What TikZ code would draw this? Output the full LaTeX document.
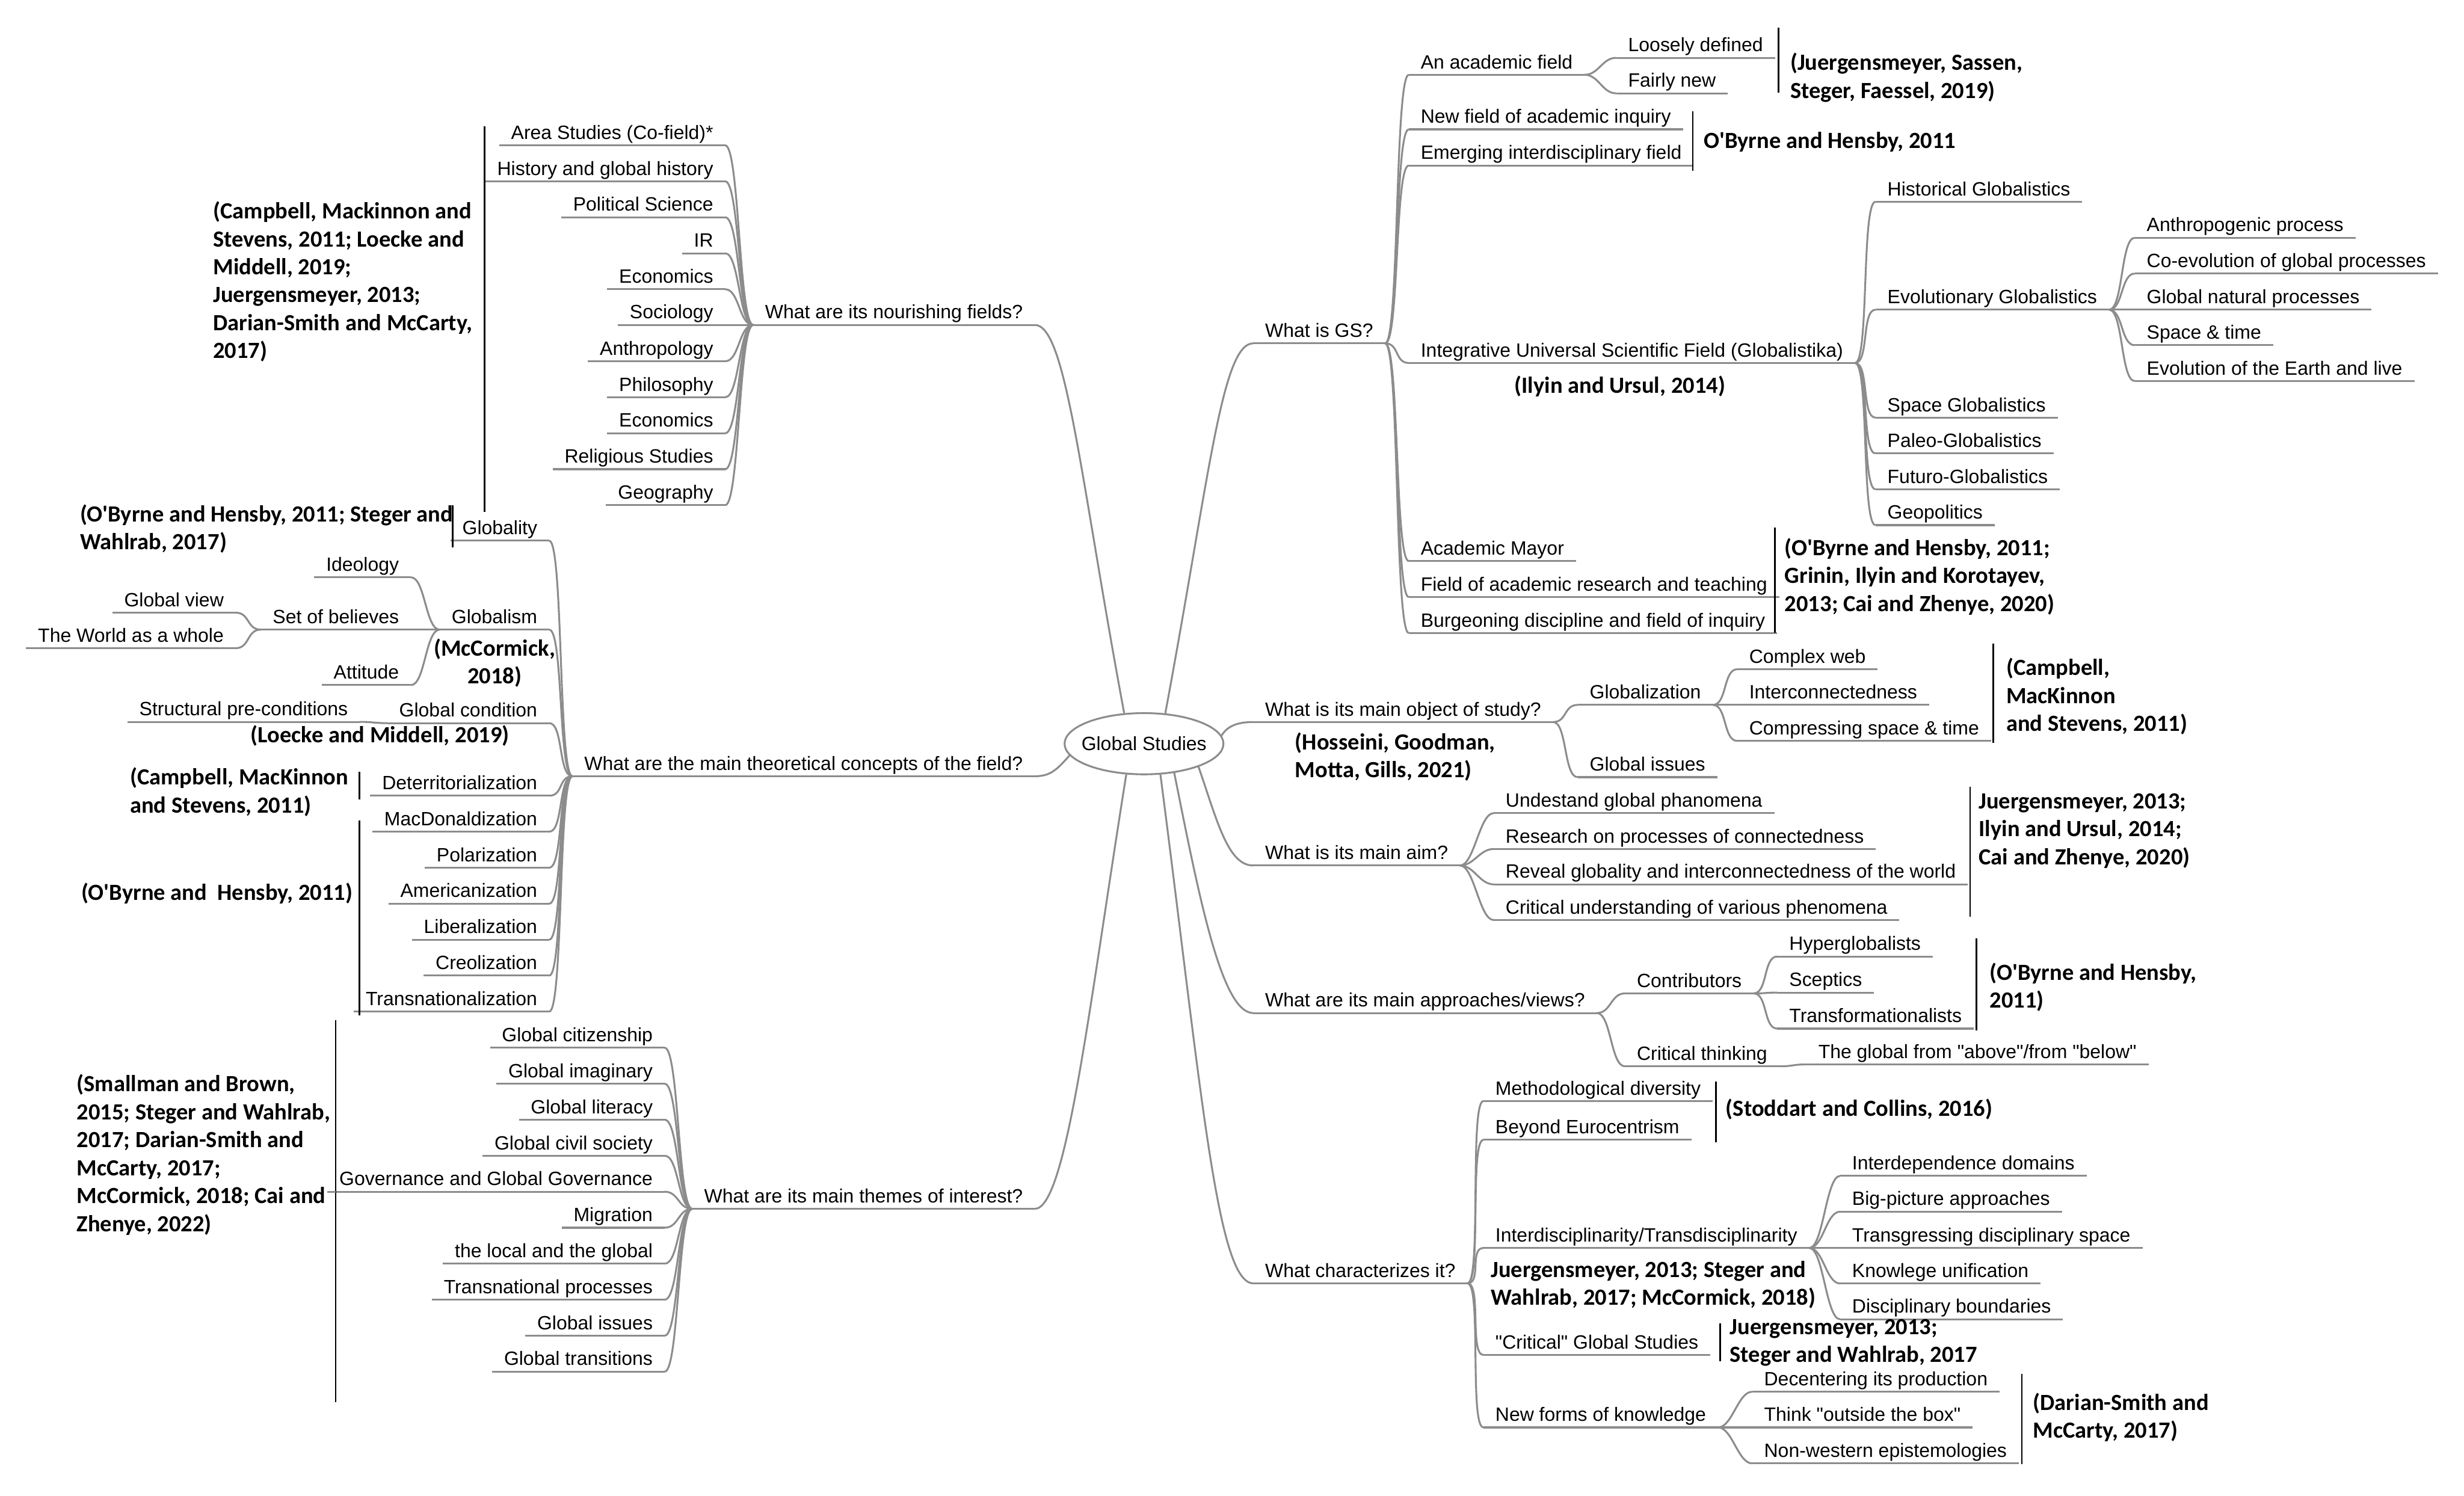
\documentclass[tikz,border=0pt]{standalone}
\usepackage{fontspec}
\setmainfont{Liberation Sans}
\newfontfamily\citefont{Carlito}
\usetikzlibrary{shapes.geometric}

\newcommand\leaffont{\fontsize{9.3}{11}\selectfont}
\newcommand\reffont{\citefont\bfseries\fontsize{11.2}{13.5}\selectfont}
\newcommand\obh{O\textquotesingle Byrne}
\newcommand\dq{\textquotedbl}
\definecolor{linegray}{RGB}{140,140,140}

\tikzset{
  uline/.style={draw=linegray, line width=0.9pt},
  item/.style={inner xsep=5.6pt, inner ysep=0.3pt, text depth=0.25em,
    append after command={(\tikzlastnode.south west) edge[uline] (\tikzlastnode.south east)}},
  rnode/.style={item, anchor=south west},
  lnode/.style={item, anchor=south east},
  branch/.style={uline, to path={.. controls +(9,0) and +(-9,0) .. (\tikztotarget)}},
  hub/.style={ellipse, draw=linegray, line width=0.9pt, minimum width=27mm, minimum height=10.4mm, inner sep=0pt},
  cite/.style={font=\reffont, align=left, anchor=west, inner sep=0pt},
  bar/.style={draw=black, line width=0.7pt}
}

\begin{document}
\begin{tikzpicture}[x=0.26703mm, y=-0.26703mm, font=\leaffont]
  \useasboundingbox (0,0) rectangle (1568,952);

  % centre
  \node[hub, label={center:Global Studies}] (gs) at (728,473.3) {};

  % ---- left: nourishing fields
  \node[lnode] (nour) at (658.5,206.8) {What are its nourishing fields?};
  \foreach \i/\y/\t in {1/92.5/{Area Studies (Co-field)*}, 2/115.4/{History and global history}, 3/138.3/{Political Science}, 4/161.2/{IR}, 5/184.1/{Economics}, 6/206.8/{Sociology}, 7/229.9/{Anthropology}, 8/252.8/{Philosophy}, 9/275.7/{Economics}, 10/298.6/{Religious Studies}, 11/321.5/{Geography}}
    {\node[lnode] (nf\i) at (461.5,\y) {\t}; \draw[branch] (nf\i.south east) to (nour.south west);}
  \node[cite] (refnour) at (135.4,179.3) {(Campbell, Mackinnon and\\Stevens, 2011; Loecke and\\Middell, 2019;\\Juergensmeyer, 2013;\\Darian-Smith and McCarty,\\2017)};
  \draw[bar] (308.3,80.4) -- (308.3,325.8);

  % ---- left: theoretical concepts
  \node[lnode] (theo) at (658.5,494) {What are the main theoretical concepts of the field?};
  \node[lnode] (glty) at (349.5,344.1) {Globality};
  \node[lnode] (glsm) at (349.5,400.7) {Globalism};
  \node[lnode] (gcond) at (349.5,460.2) {Global condition};
  \foreach \n in {glty,glsm,gcond} \draw[branch] (\n.south east) to (theo.south west);
  \foreach \i/\y/\t in {1/506.4/Deterritorialization, 2/529.3/MacDonaldization, 3/552.2/Polarization, 4/575.1/Americanization, 5/598/Liberalization, 6/620.9/Creolization, 7/643.8/Transnationalization}
    {\node[lnode] (tc\i) at (349.5,\y) {\t}; \draw[branch] (tc\i.south east) to (theo.south west);}

  \node[lnode] (ideo) at (261.5,367.4) {Ideology};
  \node[lnode] (blf) at (261.5,400.7) {Set of believes};
  \node[lnode] (att) at (261.5,436) {Attitude};
  \foreach \n in {ideo,blf,att} \draw[branch] (\n.south east) to (glsm.south west);
  \node[lnode] (gview) at (150,389.9) {Global view};
  \node[lnode] (whole) at (150,412.5) {The World as a whole};
  \foreach \n in {gview,whole} \draw[branch] (\n.south east) to (blf.south west);
  \node[lnode] (struct) at (229,459.4) {Structural pre-conditions};
  \draw[branch] (struct.south east) to (gcond.south west);

  \node[cite] (refglty) at (50.7,336.6) {(\obh\ and Hensby, 2011; Steger and\\Wahlrab, 2017)};
  \draw[bar] (288,321.6) -- (288,348.5);
  \node[cite, align=center, anchor=center] (refmcc) at (314.7,422) {(McCormick,\\2018)};
  \node[cite, anchor=center] (refloe) at (241.8,468.2) {(Loecke and Middell, 2019)};
  \node[cite] (refcmk) at (82.5,504) {(Campbell, MacKinnon\\and Stevens, 2011)};
  \draw[bar] (228.7,491) -- (228.7,508.6);
  \node[cite] (refobh) at (51.6,568.4) {(\obh\ and~ Hensby, 2011)};
  \draw[bar] (228.7,522) -- (228.7,646);

  % ---- left: themes
  \node[lnode] (thm) at (658.5,769.3) {What are its main themes of interest?};
  \foreach \i/\y/\t in {1/666.8/{Global citizenship}, 2/689.7/{Global imaginary}, 3/712.6/{Global literacy}, 4/735.5/{Global civil society}, 5/758.4/{Governance and Global Governance}, 6/781.3/{Migration}, 7/804.2/{the local and the global}, 8/827.1/{Transnational processes}, 9/850/{Global issues}, 10/872.9/{Global transitions}}
    {\node[lnode] (th\i) at (423,\y) {\t}; \draw[branch] (th\i.south east) to (thm.south west);}
  \coordinate (thbar) at (213.7,649.2);
  \draw[bar] (thbar) -- ++(0,243);
  \draw[uline] (th5.south west) -- (th5.south west -| thbar);
  \node[cite] (refthm) at (48.6,734.9) {(Smallman and Brown,\\2015; Steger and Wahlrab,\\2017; Darian-Smith and\\McCarty, 2017;\\McCormick, 2018; Cai and\\Zhenye, 2022)};

  % ---- right: what is GS
  \node[rnode] (gsq) at (797.5,218.5) {What is GS?};
  \node[rnode] (acad) at (896.5,47.6) {An academic field};
  \node[rnode] (newf) at (896.5,82.3) {New field of academic inquiry};
  \node[rnode] (emrg) at (896.5,105.3) {Emerging interdisciplinary field};
  \node[rnode] (intg) at (896.5,231) {Integrative Universal Scientific Field (Globalistika)};
  \node[rnode] (mayor) at (896.5,357.1) {Academic Mayor};
  \node[rnode] (resr) at (896.5,380) {Field of academic research and teaching};
  \node[rnode] (burg) at (896.5,402.9) {Burgeoning discipline and field of inquiry};
  \foreach \n in {acad,newf,emrg,intg,mayor,resr,burg} \draw[branch] (gsq.south east) to (\n.south west);
  \node[rnode] (loose) at (1028.5,36.8) {Loosely defined};
  \node[rnode] (fair) at (1028.5,59.4) {Fairly new};
  \foreach \n in {loose,fair} \draw[branch] (acad.south east) to (\n.south west);
  \node[rnode] (hist) at (1193.5,128.4) {Historical Globalistics};
  \node[rnode] (evol) at (1193.5,197.1) {Evolutionary Globalistics};
  \node[rnode] (spce) at (1193.5,265.8) {Space Globalistics};
  \node[rnode] (paleo) at (1193.5,288.6) {Paleo-Globalistics};
  \node[rnode] (futr) at (1193.5,311.4) {Futuro-Globalistics};
  \node[rnode] (geop) at (1193.5,334.2) {Geopolitics};
  \foreach \n in {hist,evol,spce,paleo,futr,geop} \draw[branch] (intg.south east) to (\n.south west);
  \foreach \i/\y/\t in {1/151.3/{Anthropogenic process}, 2/174.1/{Co-evolution of global processes}, 3/197.1/{Global natural processes}, 4/219.7/{Space \& time}, 5/242.5/{Evolution of the Earth and live}}
    {\node[rnode] (ev\i) at (1358.5,\y) {\t}; \draw[branch] (evol.south east) to (ev\i.south west);}

  \node[cite] (refacad) at (1139,49.4) {(Juergensmeyer, Sassen,\\Steger, Faessel, 2019)};
  \draw[bar] (1131.8,17.6) -- (1131.8,58.9);
  \node[cite] (refnewf) at (1084,90.3) {\obh\ and Hensby, 2011};
  \draw[bar] (1077.2,71) -- (1077.2,108.7);
  \node[cite, anchor=center] (refintg) at (1030.8,245.8) {(Ilyin and Ursul, 2014)};
  \node[cite] (refmayor) at (1135.5,367) {(\obh\ and Hensby, 2011;\\Grinin, Ilyin and Korotayev,\\2013; Cai and Zhenye, 2020)};
  \draw[bar] (1129.5,335.8) -- (1129.5,402.8);

  % ---- right: object of study
  \node[rnode] (obj) at (797.5,459.5) {What is its main object of study?};
  \node[rnode] (glzn) at (1004,448.6) {Globalization};
  \node[rnode] (giss) at (1004,494.6) {Global issues};
  \foreach \n in {glzn,giss} \draw[branch] (obj.south east) to (\n.south west);
  \foreach \i/\y/\t in {1/425.9/{Complex web}, 2/448.6/{Interconnectedness}, 3/471.5/{Compressing space \& time}}
    {\node[rnode] (gz\i) at (1105.5,\y) {\t}; \draw[branch] (glzn.south east) to (gz\i.south west);}
  \node[cite] (refobj) at (823.9,481.7) {(Hosseini, Goodman,\\Motta, Gills, 2021)};
  \node[cite] (refglzn) at (1276.4,443.3) {(Campbell,\\MacKinnon\\and Stevens, 2011)};
  \draw[bar] (1268.5,409.5) -- (1268.5,472.9);

  % ---- right: aim
  \node[rnode] (aim) at (797.5,550.8) {What is its main aim?};
  \foreach \i/\y/\t in {1/517.5/{Undestand global phanomena}, 2/540.3/{Research on processes of connectedness}, 3/562.8/{Reveal globality and interconnectedness of the world}, 4/585.5/{Critical understanding of various phenomena}}
    {\node[rnode] (am\i) at (950.5,\y) {\t}; \draw[branch] (aim.south east) to (am\i.south west);}
  \node[cite] (refaim) at (1259,528.7) {Juergensmeyer, 2013;\\Ilyin and Ursul, 2014;\\Cai and Zhenye, 2020)};
  \draw[bar] (1253.6,500.9) -- (1253.6,583.4);

  % ---- right: approaches
  \node[rnode] (appr) at (797.5,644.7) {What are its main approaches/views?};
  \node[rnode] (contr) at (1034,632.2) {Contributors};
  \node[rnode] (crit) at (1034,678.6) {Critical thinking};
  \foreach \n in {contr,crit} \draw[branch] (appr.south east) to (\n.south west);
  \foreach \i/\y/\t in {1/608.7/Hyperglobalists, 2/631.7/Sceptics, 3/654.6/Transformationalists}
    {\node[rnode] (ct\i) at (1131,\y) {\t}; \draw[branch] (contr.south east) to (ct\i.south west);}
  \node[rnode] (above) at (1149.5,677.4) {The global from \dq above\dq/from \dq below\dq};
  \draw[branch] (crit.south east) to (above.south west);
  \node[cite] (refcontr) at (1266,628.2) {(\obh\ and Hensby,\\2011)};
  \draw[bar] (1257.7,597) -- (1257.7,655.7);

  % ---- right: characterizes
  \node[rnode] (char) at (797.5,816.7) {What characterizes it?};
  \node[rnode] (meth) at (944,700.7) {Methodological diversity};
  \node[rnode] (euro) at (944,725.4) {Beyond Eurocentrism};
  \node[rnode] (inter) at (944,794.2) {Interdisciplinarity/Transdisciplinarity};
  \node[rnode] (cgs) at (944,862.3) {\dq Critical\dq\ Global Studies};
  \node[rnode] (newk) at (944,908.4) {New forms of knowledge};
  \foreach \n in {meth,euro,inter,cgs,newk} \draw[branch] (char.south east) to (\n.south west);
  \foreach \i/\y/\t in {1/748.3/{Interdependence domains}, 2/771.1/{Big-picture approaches}, 3/794.2/{Transgressing disciplinary space}, 4/816.8/{Knowlege unification}, 5/839.6/{Disciplinary boundaries}}
    {\node[rnode] (id\i) at (1171,\y) {\t}; \draw[branch] (inter.south east) to (id\i.south west);}
  \foreach \i/\y/\t in {1/885.7/{Decentering its production}, 2/908.4/{Think \dq outside the box\dq}, 3/931.3/{Non-western epistemologies}}
    {\node[rnode] (nk\i) at (1115,\y) {\t}; \draw[branch] (newk.south east) to (nk\i.south west);}
  \node[cite] (refmeth) at (1098,706) {(Stoddart and Collins, 2016)};
  \draw[bar] (1092,688.4) -- (1092,726.8);
  \node[cite] (refinter) at (948.5,817.6) {Juergensmeyer, 2013; Steger and\\Wahlrab, 2017; McCormick, 2018)};
  \node[cite] (refcgs) at (1100.6,854.5) {Juergensmeyer, 2013;\\Steger and Wahlrab, 2017};
  \draw[bar] (1094.6,842) -- (1094.6,866.2);
  \node[cite] (refnewk) at (1293.5,901.9) {(Darian-Smith and\\McCarty, 2017)};
  \draw[bar] (1286.6,874.5) -- (1286.6,931.9);

  % ---- main branches from the centre
  \draw[uline] (gs.123) .. controls +(-28,-150) and +(20,0) .. (nour.south east);
  \draw[uline] (gs.189) .. controls +(-8,9) and +(10,0) .. (theo.south east);
  \draw[uline] (gs.240) .. controls +(-24,150) and +(20,0) .. (thm.south east);
  \draw[uline] (gs.55) .. controls +(28,-150) and +(-20,0) .. (gsq.south west);
  \draw[uline] (gs.6) .. controls +(4,-7) and +(-8,0) .. (obj.south west);
  \draw[uline] (gs.337) .. controls +(12,35) and +(-16,0) .. (aim.south west);
  \draw[uline] (gs.316) .. controls +(16,80) and +(-20,0) .. (appr.south west);
  \draw[uline] (gs.298) .. controls +(26,200) and +(-23,0) .. (char.south west);
\end{tikzpicture}
\end{document}
